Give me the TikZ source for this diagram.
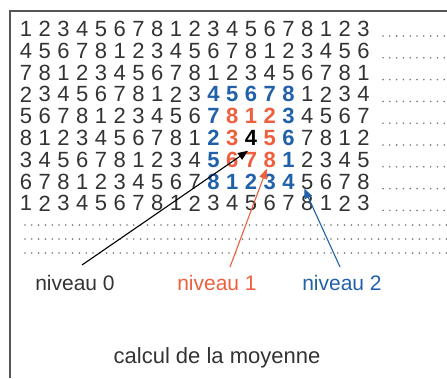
\documentclass[tikz,border=0pt]{standalone}
\usepackage{fontspec}
\setmainfont{Liberation Sans}
\usetikzlibrary{arrows.meta, calc}
\definecolor{levelorange}{HTML}{EE5F3E}
\definecolor{levelblue}{HTML}{2161AA}
\definecolor{digitgray}{HTML}{333333}
\definecolor{framegray}{HTML}{555555}
\definecolor{dotgray}{HTML}{777777}

\begin{document}
\begin{tikzpicture}[x=1pt, y=-1pt,
    digit/.style={inner sep=0pt, font=\fontsize{22}{22}\selectfont},
    levellabel/.style={inner sep=0pt, font=\fontsize{21}{21}\selectfont},
    dotrow/.style={dotgray, line width=1.8pt, line cap=round, dash pattern=on 0pt off 6.8pt},
    pointer/.style={line width=1.1pt, -{Triangle[length=10pt, width=8pt]}}]
        \useasboundingbox (0,0) rectangle (447,378);

        % Frame
        \draw[framegray, line width=2.5pt] (10,378) -- (10,11) -- (447,11);

        % Grid of digits, neighbourhood of the centre in colour
        \foreach \r in {0,...,8}{
            \foreach \c in {0,...,18}{
                \pgfmathtruncatemacro{\v}{mod(3*\r+\c,8)+1}
                \pgfmathtruncatemacro{\d}{min(max(abs(\r-5),abs(\c-12)),3)}
                \ifcase\d \def\dcol{black}\def\dwt{\bfseries}%
                \or \def\dcol{levelorange}\def\dwt{\bfseries}%
                \or \def\dcol{levelblue}\def\dwt{\bfseries}%
                \else \def\dcol{digitgray}\def\dwt{}\fi
                \node[digit, text=\dcol] (d-\r-\c) at (26+18.75*\c, 29+21.8*\r) {\dwt\v};
            }
            \draw[dotrow] (383, 36+21.8*\r) -- (447, 36+21.8*\r);
        }

        % Empty rows
        \foreach \y in {225,239,253}
            \draw[dotrow] (25,\y) -- (447,\y);

        % Level labels
        \node[levellabel, text=digitgray] (lvl0) at (75,283) {niveau 0};
        \node[levellabel, text=levelorange] (lvl1) at (217,283) {niveau 1};
        \node[levellabel, text=levelblue] (lvl2) at (342,283) {niveau 2};

        % Pointers
        \coordinate (from0) at (82,265);
        \coordinate (from1) at (230,267);
        \coordinate (from2) at (340,267);
        \draw[pointer, black] (from0) -- ($(d-5-12.south)+(-3,5)$);
        \draw[pointer, levelorange] (from1) -- ($(d-6-13.south)+(-3,1)$);
        \draw[pointer, levelblue] (from2) -- ($(d-7-15.south)+(-3,-1)$);

        % Caption
        \node[levellabel, text=digitgray, font=\fontsize{22}{22}\selectfont] (title) at (217,358) {calcul de la moyenne};
\end{tikzpicture}
\end{document}
